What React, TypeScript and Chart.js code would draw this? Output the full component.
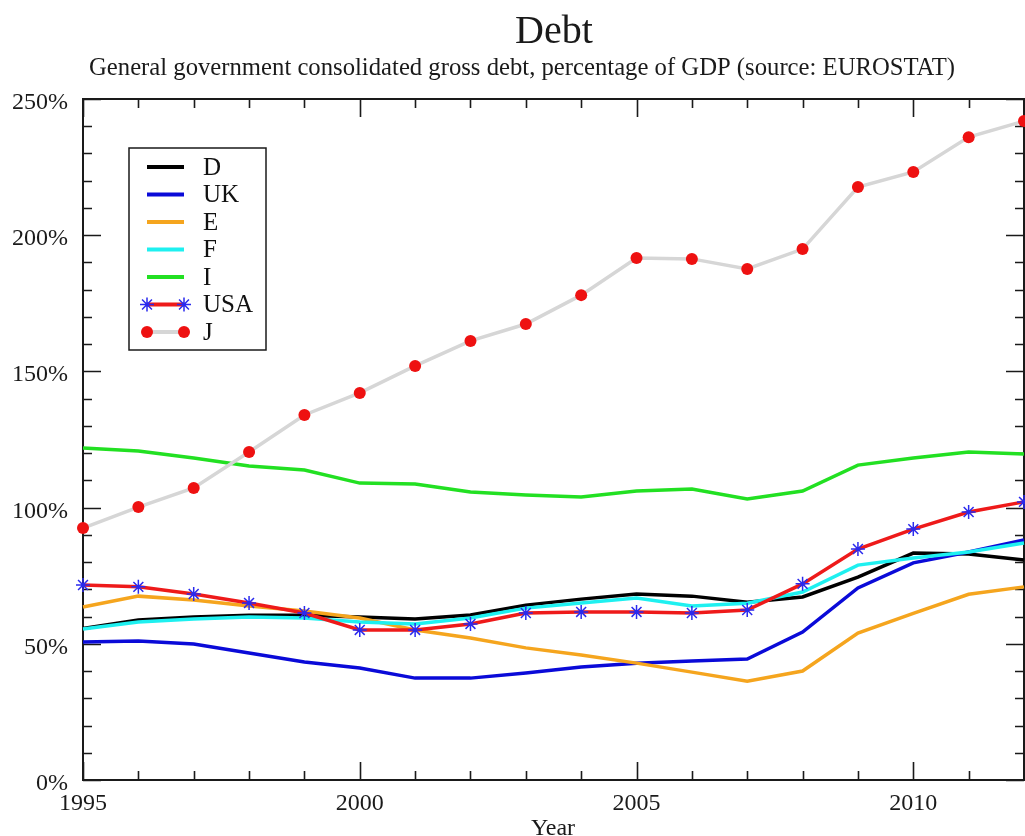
import React, { useEffect, useRef } from 'react';
import { Chart, registerables } from 'chart.js';

Chart.register(...registerables);

const years = [1995, 1996, 1997, 1998, 1999, 2000, 2001, 2002, 2003, 2004, 2005, 2006, 2007, 2008, 2009, 2010, 2011, 2012];
const seriesD = [55.6, 58.7, 59.8, 60.5, 60.5, 59.8, 59.1, 60.6, 64.2, 66.4, 68.3, 67.5, 65.3, 67.2, 74.5, 83.3, 83.0, 80.8];
const seriesUK = [50.7, 51.0, 49.9, 46.6, 43.3, 41.1, 37.4, 37.4, 39.3, 41.5, 42.9, 43.7, 44.4, 54.3, 70.5, 79.7, 83.7, 88.1];
const seriesE = [63.5, 67.5, 66.1, 63.9, 62.0, 59.5, 55.1, 52.1, 48.5, 45.9, 42.9, 39.6, 36.3, 40.0, 53.9, 61.2, 68.2, 70.9];
const seriesF = [55.4, 58.0, 59.1, 59.8, 59.5, 58.0, 57.3, 59.5, 63.1, 65.0, 66.8, 63.9, 64.9, 69.0, 78.9, 81.5, 83.7, 87.0];
const seriesI = [121.9, 120.8, 118.2, 115.3, 113.8, 109.0, 108.7, 105.7, 104.6, 103.9, 106.1, 106.8, 103.2, 106.1, 115.6, 118.2, 120.4, 119.7];
const seriesUSA = [71.6, 70.9, 68.3, 65.0, 61.3, 55.1, 55.1, 57.3, 61.3, 61.7, 61.7, 61.3, 62.4, 72.0, 84.8, 92.1, 98.4, 102.1];
const seriesJ = [92.5, 100.2, 107.2, 120.4, 134.0, 142.1, 152.0, 161.2, 167.4, 178.0, 191.6, 191.3, 187.6, 194.9, 217.7, 223.2, 236.0, 241.9];

const seriesLabels = ['D', 'UK', 'E', 'F', 'I', 'USA', 'J'];
const yTickValues = [0, 50, 100, 150, 200, 250];
const xTickValues = [1995, 2000, 2005, 2010];

const titleText = 'Debt';
const subtitleText = 'General government consolidated gross debt, percentage of GDP (source: EUROSTAT)';
const xAxisTitle = 'Year';

const FONT = '"Liberation Serif", "Times New Roman", serif';

type Marker = 'none' | 'star' | 'dot';

const lineColors = ['#000000', '#0a0ad8', '#f5a51e', '#1ef0f0', '#22e022', '#ee1a1a', '#d6d6d6'];
const markerKinds: Marker[] = ['none', 'none', 'none', 'none', 'none', 'star', 'dot'];
const markerColors = ['', '', '', '', '', '#2a2aee', '#ee1111'];

function drawMarker(ctx: CanvasRenderingContext2D, kind: Marker, color: string, x: number, y: number) {
  if (kind === 'star') {
    const r = 7;
    ctx.save();
    ctx.strokeStyle = color;
    ctx.lineWidth = 1.5;
    ctx.beginPath();
    ctx.moveTo(x - r, y); ctx.lineTo(x + r, y);
    ctx.moveTo(x, y - r); ctx.lineTo(x, y + r);
    const d = r * 0.7071;
    ctx.moveTo(x - d, y - d); ctx.lineTo(x + d, y + d);
    ctx.moveTo(x - d, y + d); ctx.lineTo(x + d, y - d);
    ctx.stroke();
    ctx.restore();
  } else if (kind === 'dot') {
    ctx.save();
    ctx.fillStyle = color;
    ctx.beginPath();
    ctx.arc(x, y, 6, 0, Math.PI * 2);
    ctx.fill();
    ctx.restore();
  }
}

const decorPlugin = {
  id: 'decor',
  beforeDatasetsDraw(chart: any) {
    const ctx: CanvasRenderingContext2D = chart.ctx;
    const { left, right, top, bottom } = chart.chartArea;
    const xs = chart.scales.x;
    const ys = chart.scales.y;
    ctx.save();
    ctx.strokeStyle = '#1a1a1a';
    ctx.lineWidth = 1.6;
    ctx.beginPath();
    for (let v = 0; v <= 250; v += 10) {
      const y = Math.round(ys.getPixelForValue(v)) + 0.5;
      const len = v % 50 === 0 ? 18 : 9;
      ctx.moveTo(left, y); ctx.lineTo(left + len, y);
      ctx.moveTo(right, y); ctx.lineTo(right - len, y);
    }
    for (let yr = 1995; yr <= 2012; yr++) {
      const x = Math.round(xs.getPixelForValue(yr)) + 0.5;
      const len = yr % 5 === 0 ? 18 : 9;
      ctx.moveTo(x, bottom); ctx.lineTo(x, bottom - len);
      ctx.moveTo(x, top); ctx.lineTo(x, top + len);
    }
    ctx.stroke();
    ctx.lineWidth = 2;
    ctx.strokeRect(left, top, right - left, bottom - top);
    ctx.restore();
  },
  afterDatasetsDraw(chart: any) {
    const ctx: CanvasRenderingContext2D = chart.ctx;
    ctx.save();
    ctx.fillStyle = '#ffffff';
    ctx.fillRect(129, 148, 137, 202);
    ctx.strokeStyle = '#1a1a1a';
    ctx.lineWidth = 1.5;
    ctx.strokeRect(129, 148, 137, 202);
    ctx.font = '25px ' + FONT;
    ctx.textBaseline = 'middle';
    ctx.textAlign = 'left';
    chart.data.datasets.forEach((ds: any, i: number) => {
      const y = 167 + i * 27.5;
      ctx.strokeStyle = lineColors[i];
      ctx.lineWidth = 4;
      ctx.beginPath();
      ctx.moveTo(147, y); ctx.lineTo(184, y);
      ctx.stroke();
      drawMarker(ctx, markerKinds[i], markerColors[i], 147, y);
      drawMarker(ctx, markerKinds[i], markerColors[i], 184, y);
      ctx.fillStyle = '#111111';
      ctx.fillText(ds.label, 203, y + 1);
    });
    ctx.restore();
  },
  afterDraw(chart: any) {
    const ctx: CanvasRenderingContext2D = chart.ctx;
    const xs = chart.scales.x;
    const ys = chart.scales.y;
    const { bottom } = chart.chartArea;
    ctx.save();
    ctx.fillStyle = '#1a1a1a';
    ctx.font = '24px ' + FONT;
    ctx.textAlign = 'right';
    ctx.textBaseline = 'alphabetic';
    yTickValues.forEach((v) => {
      ctx.fillText(v + '%', 68, ys.getPixelForValue(v) + 10);
    });
    ctx.textAlign = 'center';
    xTickValues.forEach((v) => {
      ctx.fillText(String(v), xs.getPixelForValue(v), bottom + 30);
    });
    ctx.fillText(xAxisTitle, 553, 835);
    ctx.font = '24.7px ' + FONT;
    ctx.fillText(subtitleText, 522, 75);
    ctx.font = '40px ' + FONT;
    ctx.fillText(titleText, 554, 43);
    ctx.restore();
  },
};

export default function App() {
  const canvasRef = useRef<HTMLCanvasElement | null>(null);

  useEffect(() => {
    const canvas = canvasRef.current;
    if (!canvas) return;
    const all = [seriesD, seriesUK, seriesE, seriesF, seriesI, seriesUSA, seriesJ];
    const datasets = all.map((arr, i) => {
      const kind = markerKinds[i];
      return {
        label: seriesLabels[i],
        data: years.map((yr, j) => ({ x: yr, y: arr[j] })),
        borderColor: lineColors[i],
        backgroundColor: lineColors[i],
        borderWidth: 3.5,
        tension: 0,
        clip: false as any,
        order: all.length - i,
        pointRadius: kind === 'none' ? 0 : kind === 'star' ? 7 : 6,
        pointStyle: kind === 'star' ? 'star' : 'circle',
        pointBorderColor: kind === 'none' ? lineColors[i] : markerColors[i],
        pointBackgroundColor: kind === 'none' ? lineColors[i] : markerColors[i],
        pointBorderWidth: kind === 'star' ? 1.5 : 0,
        pointHoverRadius: 0,
      };
    });
    const chart = new Chart(canvas, {
      type: 'line',
      data: { datasets },
      options: {
        animation: false,
        responsive: false,
        events: [],
        layout: { autoPadding: false, padding: { left: 83, top: 99, right: 1, bottom: 56 } },
        plugins: {
          legend: { display: false },
          title: { display: false },
          tooltip: { enabled: false },
        },
        scales: {
          x: { type: 'linear', min: 1995, max: 2012, display: false },
          y: { type: 'linear', min: 0, max: 250, display: false },
        },
      },
      plugins: [decorPlugin],
    } as any);
    return () => chart.destroy();
  }, []);

  return (
    <div style={{ position: 'absolute', left: 0, top: 0, width: 1025, height: 836, background: '#ffffff', overflow: 'hidden' }}>
      <canvas ref={canvasRef} width={1025} height={836} style={{ display: 'block', width: 1025, height: 836 }} />
    </div>
  );
}
